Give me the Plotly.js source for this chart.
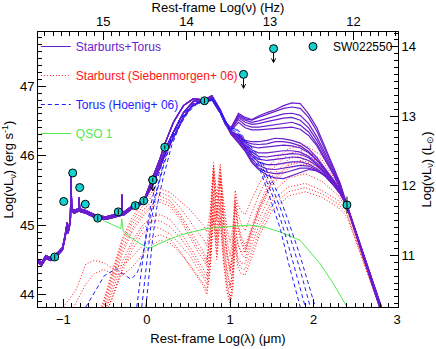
<!DOCTYPE html>
<html>
<head>
<meta charset="utf-8">
<script src="https://cdn.plot.ly/plotly-3.0.1.min.js"></script>
<style>html,body{margin:0;padding:0;background:#fff}#graph{width:436px;height:349px}</style>
</head>
<body>
<div id="graph"></div>
<script>
// Starburst+Torus model SEDs (purple): UV part, near-IR part, far-IR part
var uvX = [-1.31, -1.26, -1.21, -1.15, -1.07, -1.01, -0.98, -0.96, -0.955, -0.945, -0.93, -0.915, -0.909, -0.900, -0.87, -0.815, -0.81, -0.805, -0.79, -0.73, -0.61, -0.49, -0.37, -0.303, -0.297, -0.291, -0.28, -0.17, -0.05];
var uvY = [
  [44.49, 44.44, 44.54, 44.51, 44.58, 44.66, 44.83, 44.95, 45.02, 44.90, 44.97, 45.10, 45.73, 45.22, 45.19, 45.22, 45.38, 45.22, 45.21, 45.19, 45.12, 45.10, 45.14, 45.16, 45.42, 45.17, 45.16, 45.26, 45.33],
  [44.51, 44.46, 44.56, 44.53, 44.60, 44.68, 44.85, 44.97, 45.04, 44.92, 44.99, 45.12, 45.74, 45.24, 45.21, 45.24, 45.40, 45.24, 45.23, 45.21, 45.14, 45.12, 45.16, 45.18, 45.44, 45.19, 45.18, 45.28, 45.35],
  [44.47, 44.42, 44.52, 44.49, 44.56, 44.64, 44.81, 44.93, 45.00, 44.88, 44.95, 45.08, 45.72, 45.20, 45.17, 45.20, 45.36, 45.20, 45.19, 45.17, 45.10, 45.08, 45.12, 45.14, 45.40, 45.15, 45.14, 45.24, 45.31]
];
var nirX = [0.0, 0.08, 0.16, 0.22, 0.32, 0.44, 0.56, 0.69, 0.78, 0.88, 0.94];
var nirY = [
  [45.47, 45.70, 45.96, 46.18, 46.48, 46.72, 46.82, 46.80, 46.86, 46.66, 46.50],
  [45.44, 45.64, 45.88, 46.08, 46.34, 46.62, 46.78, 46.79, 46.83, 46.64, 46.48],
  [45.42, 45.60, 45.84, 46.02, 46.26, 46.55, 46.74, 46.78, 46.81, 46.62, 46.46]
];
var firX = [1.01, 1.1, 1.18, 1.26, 1.34, 1.44, 1.54, 1.64, 1.74, 1.84, 1.94, 2.04, 2.14, 2.24, 2.32, 2.4, 2.5, 2.6, 2.7, 2.8, 2.9];
var firY = [
  [46.40, 46.61, 46.55, 46.52, 46.57, 46.62, 46.66, 46.72, 46.76, 46.75, 46.60, 46.40, 46.12, 45.85, 45.60, 45.29, 44.93, 44.57, 44.21, 43.85, 43.49],
  [46.40, 46.59, 46.53, 46.51, 46.55, 46.59, 46.63, 46.68, 46.70, 46.68, 46.55, 46.35, 46.08, 45.82, 45.58, 45.28, 44.92, 44.56, 44.20, 43.84, 43.48],
  [46.39, 46.57, 46.51, 46.48, 46.50, 46.53, 46.57, 46.60, 46.61, 46.58, 46.46, 46.27, 46.03, 45.79, 45.56, 45.28, 44.92, 44.55, 44.19, 43.83, 43.47],
  [46.38, 46.55, 46.48, 46.45, 46.46, 46.49, 46.52, 46.54, 46.55, 46.51, 46.40, 46.22, 45.99, 45.76, 45.55, 45.28, 44.91, 44.55, 44.18, 43.82, 43.45],
  [46.37, 46.52, 46.44, 46.41, 46.41, 46.43, 46.45, 46.47, 46.48, 46.44, 46.34, 46.17, 45.96, 45.74, 45.53, 45.28, 44.91, 44.54, 44.17, 43.80, 43.43],
  [46.36, 46.48, 46.40, 46.37, 46.37, 46.38, 46.38, 46.40, 46.41, 46.38, 46.29, 46.14, 45.93, 45.72, 45.52, 45.27, 44.90, 44.53, 44.16, 43.79, 43.42],
  [46.35, 46.30, 46.22, 46.20, 46.20, 46.22, 46.25, 46.24, 46.22, 46.18, 46.10, 45.97, 45.81, 45.65, 45.50, 45.28, 44.93, 44.57, 44.22, 43.86, 43.50],
  [46.34, 46.29, 46.20, 46.17, 46.16, 46.17, 46.20, 46.20, 46.18, 46.14, 46.06, 45.94, 45.79, 45.64, 45.50, 45.28, 44.93, 44.58, 44.22, 43.87, 43.52],
  [46.34, 46.28, 46.18, 46.13, 46.11, 46.12, 46.14, 46.15, 46.14, 46.11, 46.04, 45.93, 45.78, 45.63, 45.49, 45.28, 44.93, 44.57, 44.22, 43.86, 43.51],
  [46.33, 46.26, 46.15, 46.08, 46.04, 46.04, 46.06, 46.07, 46.07, 46.05, 45.99, 45.89, 45.76, 45.62, 45.48, 45.28, 44.92, 44.57, 44.21, 43.86, 43.50],
  [46.33, 46.25, 46.14, 46.05, 45.99, 45.98, 46.00, 46.02, 46.03, 46.02, 45.97, 45.87, 45.75, 45.61, 45.48, 45.28, 44.92, 44.56, 44.21, 43.85, 43.49],
  [46.33, 46.24, 46.12, 46.02, 45.95, 45.93, 45.94, 45.96, 45.98, 45.97, 45.93, 45.85, 45.73, 45.60, 45.47, 45.28, 44.92, 44.56, 44.20, 43.84, 43.48],
  [46.32, 46.23, 46.11, 45.99, 45.91, 45.87, 45.87, 45.89, 45.91, 45.91, 45.88, 45.81, 45.71, 45.58, 45.46, 45.28, 44.91, 44.55, 44.18, 43.82, 43.45],
  [46.32, 46.21, 46.09, 45.95, 45.86, 45.81, 45.80, 45.82, 45.85, 45.86, 45.85, 45.79, 45.70, 45.57, 45.45, 45.27, 44.91, 44.54, 44.17, 43.80, 43.43],
  [46.31, 46.20, 46.08, 45.92, 45.82, 45.76, 45.74, 45.75, 45.79, 45.82, 45.82, 45.78, 45.71, 45.58, 45.45, 45.27, 44.90, 44.53, 44.16, 43.79, 43.42],
  [46.31, 46.18, 46.06, 45.90, 45.80, 45.72, 45.68, 45.67, 45.71, 45.76, 45.80, 45.78, 45.72, 45.58, 45.45, 45.27, 44.90, 44.53, 44.16, 43.78, 43.41]
];

// Starburst models (Siebenmorgen+ 06), red dotted
var sbX = [-1.0, -0.85, -0.73, -0.63, -0.52, -0.41, -0.29, -0.17, -0.05, 0.07, 0.16, 0.28, 0.40, 0.52, 0.62, 0.68, 0.72, 0.76, 0.80, 0.84, 0.88, 0.92, 0.96, 1.0, 1.03, 1.06, 1.09, 1.13, 1.18, 1.25, 1.35, 1.5, 1.7, 1.9, 2.1, 2.3, 2.4, 2.6, 2.8];
var sbY = [
  [42.60, 42.95, 43.25, 43.50, 43.82, 44.25, 44.73, 45.02, 45.21, 45.35, 45.42, 45.35, 45.16, 44.92, 44.72, 44.62, 44.50, 44.95, 45.80, 45.15, 45.75, 45.10, 44.65, 44.38, 44.65, 45.35, 45.05, 44.85, 44.70, 44.95, 45.30, 45.70, 45.95, 46.02, 45.88, 45.55, 45.28, 44.56, 43.84],
  [42.55, 42.90, 43.20, 43.45, 43.76, 44.18, 44.66, 44.96, 45.16, 45.30, 45.37, 45.31, 45.12, 44.87, 44.66, 44.56, 44.45, 44.90, 45.75, 45.10, 45.70, 45.05, 44.60, 44.34, 44.60, 45.30, 45.00, 44.80, 44.65, 44.90, 45.25, 45.64, 45.88, 45.95, 45.82, 45.52, 45.27, 44.56, 43.84],
  [42.45, 42.80, 43.10, 43.38, 43.70, 44.12, 44.60, 44.92, 45.12, 45.27, 45.33, 45.27, 45.08, 44.82, 44.60, 44.50, 44.40, 44.85, 45.70, 45.05, 45.65, 45.00, 44.55, 44.30, 44.55, 45.25, 44.95, 44.75, 44.60, 44.85, 45.20, 45.58, 45.82, 45.88, 45.76, 45.48, 45.25, 44.55, 43.83],
  [42.70, 43.05, 43.35, 43.62, 43.90, 44.35, 44.82, 45.12, 45.33, 45.48, 45.52, 45.47, 45.35, 45.22, 45.08, 45.00, 44.90, 45.20, 45.90, 45.40, 45.88, 45.35, 44.95, 44.75, 44.95, 45.50, 45.30, 45.20, 45.15, 45.35, 45.60, 45.90, 46.10, 46.15, 46.00, 45.62, 45.30, 44.58, 43.86],
  [42.65, 43.00, 43.30, 43.56, 43.86, 44.30, 44.78, 45.07, 45.27, 45.42, 45.47, 45.41, 45.25, 45.05, 44.88, 44.80, 44.70, 45.08, 45.85, 45.28, 45.82, 45.22, 44.80, 44.55, 44.80, 45.42, 45.18, 45.02, 44.92, 45.15, 45.45, 45.80, 46.03, 46.08, 45.94, 45.58, 45.29, 44.57, 43.85],
  [42.42, 42.78, 43.08, 43.36, 43.66, 44.05, 44.48, 44.78, 45.00, 45.12, 45.15, 45.08, 44.90, 44.68, 44.48, 44.38, 44.28, 44.68, 45.50, 44.88, 45.45, 44.80, 44.38, 44.12, 44.38, 45.05, 44.75, 44.60, 44.52, 44.78, 45.10, 45.46, 45.68, 45.74, 45.63, 45.42, 45.23, 44.52, 43.81],
  [42.30, 42.70, 43.00, 43.30, 43.60, 43.98, 44.40, 44.72, 44.95, 45.06, 45.06, 44.98, 44.82, 44.62, 44.42, 44.32, 44.22, 44.60, 45.40, 44.80, 45.35, 44.72, 44.32, 44.08, 44.35, 45.00, 44.72, 44.62, 44.62, 44.90, 45.25, 45.62, 45.86, 45.92, 45.80, 45.50, 45.26, 44.55, 43.83],
  [42.40, 42.80, 43.10, 43.40, 43.65, 43.95, 44.35, 44.65, 44.88, 44.98, 44.95, 44.87, 44.72, 44.55, 44.35, 44.25, 44.15, 44.50, 45.30, 44.70, 45.25, 44.60, 44.20, 43.95, 44.20, 44.85, 44.55, 44.45, 44.45, 44.70, 45.00, 45.35, 45.55, 45.60, 45.50, 45.35, 45.20, 44.50, 43.80],
  [43.82, 44.06, 44.44, 44.49, 44.46, 44.38, 44.42, 44.55, 44.70, 44.82, 44.86, 44.80, 44.62, 44.40, 44.22, 44.12, 44.00, 44.35, 45.10, 44.50, 45.05, 44.45, 44.05, 43.85, 44.05, 44.70, 44.40, 44.30, 44.28, 44.50, 44.85, 45.20, 45.42, 45.48, 45.40, 45.25, 45.12, 44.45, 43.78],
  [43.50, 43.88, 44.15, 44.30, 44.36, 44.30, 44.28, 44.40, 44.58, 44.72, 44.78, 44.74, 44.60, 44.42, 44.25, 44.16, 44.06, 44.40, 45.18, 44.58, 45.12, 44.52, 44.12, 43.90, 44.12, 44.78, 44.48, 44.38, 44.36, 44.60, 44.92, 45.28, 45.48, 45.54, 45.45, 45.30, 45.16, 44.48, 43.79]
];

// Torus models (Hoenig+ 06), blue dashed
var torusX = [
  [-0.73, -0.61, -0.51, -0.37, -0.29, -0.19, -0.12, -0.08, -0.04, 0.0, 0.05, 0.1, 0.2, 0.3, 0.4, 0.5, 0.6, 0.7, 0.8, 0.88, 0.94, 1.0, 1.05, 1.1, 1.2, 1.36, 1.5, 1.6, 1.7, 1.84],
  [-0.12, -0.08, -0.04, 0.0, 0.05, 0.1, 0.2, 0.3, 0.4, 0.5, 0.6, 0.7, 0.8, 0.88, 0.94, 1.0, 1.05, 1.1, 1.2, 1.36, 1.5, 1.6, 1.7, 1.84, 1.9],
  [-0.06, -0.02, 0.02, 0.06, 0.1, 0.2, 0.3, 0.4, 0.5, 0.6, 0.7, 0.8, 0.88, 0.94, 1.0, 1.05, 1.1, 1.2, 1.36, 1.5, 1.6, 1.7, 1.84, 1.96],
  [-0.01, 0.03, 0.07, 0.12, 0.2, 0.3, 0.4, 0.5, 0.6, 0.7, 0.8, 0.88, 0.94, 1.0, 1.05, 1.1, 1.2, 1.36, 1.5, 1.6, 1.7, 1.84, 2.02]
];
var torusY = [
  [43.82, 44.06, 44.27, 44.37, 44.30, 44.22, 44.30, 44.42, 44.62, 44.88, 45.18, 45.42, 45.88, 46.25, 46.52, 46.68, 46.76, 46.78, 46.80, 46.62, 46.48, 46.35, 46.36, 46.28, 46.08, 45.79, 45.31, 44.95, 44.45, 43.82],
  [43.82, 44.20, 44.60, 44.95, 45.30, 45.55, 45.95, 46.28, 46.52, 46.68, 46.76, 46.79, 46.82, 46.64, 46.50, 46.37, 46.39, 46.32, 46.14, 45.85, 45.45, 45.10, 44.70, 44.08, 43.82],
  [43.82, 44.25, 44.70, 45.10, 45.38, 45.85, 46.22, 46.48, 46.66, 46.75, 46.78, 46.81, 46.63, 46.49, 46.37, 46.40, 46.34, 46.17, 45.90, 45.55, 45.25, 44.90, 44.35, 43.82],
  [43.82, 44.30, 44.80, 45.25, 45.70, 46.15, 46.44, 46.63, 46.74, 46.77, 46.80, 46.62, 46.48, 46.36, 46.40, 46.36, 46.20, 45.95, 45.65, 45.38, 45.05, 44.55, 43.82]
];

// QSO 1 template, green
var qsoX = [-0.53, -0.43, -0.35, -0.31, -0.30, -0.29, -0.28, -0.17, 0.02, 0.24, 0.44, 0.72, 1.0, 1.24, 1.44, 1.60, 1.84, 2.08, 2.24, 2.40];
var qsoY = [45.07, 45.02, 44.98, 44.95, 45.09, 44.95, 44.90, 44.80, 44.66, 44.78, 44.87, 44.95, 44.98, 45.00, 44.96, 44.90, 44.78, 44.44, 44.15, 43.82];

// SW022550 photometry
var obsX = [-1.104, -0.996, -0.888, -0.804, -0.737, -0.588, -0.341, -0.137, -0.036, 0.072, 0.216, 0.692, 2.40];
var obsY = [44.54, 45.34, 45.75, 45.54, 45.30, 45.10, 45.19, 45.28, 45.35, 45.65, 46.12, 46.79, 45.29];
var obsErr = [0.04, 0, 0, 0, 0, 0.04, 0.04, 0.04, 0.04, 0.03, 0.03, 0.04, 0.12];
// upper limits
var limX = [0.072, 1.16, 1.52];
var limY = [45.65, 47.17, 47.54];
var limLen = [0.16, 0.2, 0.2];

var PURPLE = 'rgb(105,30,205)';
var RED = 'rgb(255,20,20)';
var BLUE = 'rgb(30,30,255)';
var GREEN = 'rgb(80,235,80)';
var CYAN = 'rgb(20,210,210)';
var LSUN = 33.565;

var traces = [];

sbY.forEach(function(y, i) {
  traces.push({
    x: sbX, y: y, type: 'scatter', mode: 'lines',
    line: {color: RED, width: 1, dash: '1px,2px'},
    name: '<span style="color:' + RED + '">Starburst (Siebenmorgen+ 06)</span>',
    legendgroup: 'sb', showlegend: i === 0, legendrank: 2, hoverinfo: 'skip'
  });
});

traces.push({
  x: qsoX, y: qsoY, type: 'scatter', mode: 'lines',
  line: {color: GREEN, width: 1},
  name: '<span style="color:' + GREEN + '">QSO 1</span>',
  legendrank: 4, hoverinfo: 'skip'
});

var sedX = uvX.concat(nirX, firX);
firY.forEach(function(fy, i) {
  traces.push({
    x: sedX, y: uvY[i % 3].concat(nirY[(i + 1) % 3], fy),
    type: 'scatter', mode: 'lines',
    line: {color: PURPLE, width: 1.2},
    name: '<span style="color:' + PURPLE + '">Starburts+Torus</span>',
    legendgroup: 'sum', showlegend: i === 0, legendrank: 1, hoverinfo: 'skip'
  });
});

torusY.forEach(function(y, i) {
  traces.push({
    x: torusX[i], y: y, type: 'scatter', mode: 'lines',
    line: {color: BLUE, width: 1, dash: '4px,3px'},
    name: '<span style="color:' + BLUE + '">Torus (Hoenig+ 06)</span>',
    legendgroup: 'torus', showlegend: i === 0, legendrank: 3, hoverinfo: 'skip'
  });
});

// upper-limit arrows: shaft and open head below each limit point
var ax = [], ay = [];
limX.forEach(function(x, i) {
  var tip = limY[i] - limLen[i];
  ax.push(x, x, null, x - 0.025, x, x + 0.025, null);
  ay.push(limY[i] - 0.06, tip, null, tip + 0.06, tip, tip + 0.06, null);
});
traces.push({x: ax, y: ay, type: 'scatter', mode: 'lines', line: {color: 'black', width: 1}, showlegend: false, hoverinfo: 'skip'});

// observed points
traces.push({
  x: obsX.concat(limX), y: obsY.concat(limY), type: 'scatter', mode: 'markers',
  marker: {color: CYAN, size: 8, line: {color: 'black', width: 1}},
  name: 'SW022550', legend: 'legend2'
});

// error bars drawn above the markers
var ex = [], ey = [];
obsX.forEach(function(x, i) {
  if (obsErr[i] > 0) {
    ex.push(x, x, null);
    ey.push(obsY[i] - obsErr[i], obsY[i] + obsErr[i], null);
  }
});
traces.push({x: ex, y: ey, type: 'scatter', mode: 'lines', line: {color: 'black', width: 1}, showlegend: false, hoverinfo: 'skip'});

// empty trace to carry the top and right axes
traces.push({x: [], y: [], xaxis: 'x2', yaxis: 'y2', type: 'scatter', showlegend: false});

var xr = [-1.304, 3.012];
var yr = [43.82, 47.78];

function axisBase() {
  return {
    ticks: 'inside', ticklen: 8, tickwidth: 1, tickcolor: 'black',
    showline: true, linecolor: 'black', linewidth: 1,
    showgrid: false, zeroline: false, dtick: 1,
    minor: {dtick: 0.1, ticks: 'inside', ticklen: 4, tickcolor: 'black', showgrid: false},
    tickfont: {size: 13}, title: {font: {size: 13}}, fixedrange: true
  };
}

var xaxis = axisBase();
xaxis.range = xr; xaxis.tick0 = 0;
xaxis.title.text = 'Rest-frame Log(λ) (μm)';
xaxis.title.standoff = 8;

var xaxis2 = axisBase();
xaxis2.range = [14.477 - xr[0], 14.477 - xr[1]]; xaxis2.tick0 = 0;
xaxis2.overlaying = 'x'; xaxis2.side = 'top'; xaxis2.anchor = 'y';
xaxis2.title.text = 'Rest-frame Log(ν) (Hz)';
xaxis2.title.standoff = 4;

var yaxis = axisBase();
yaxis.range = yr; yaxis.tick0 = 0;
yaxis.title.text = 'Log(νL<sub>ν</sub>) (erg s<sup>-1</sup>)';
yaxis.title.standoff = 6;

var yaxis2 = axisBase();
yaxis2.range = [yr[0] - LSUN, yr[1] - LSUN]; yaxis2.tick0 = 0;
yaxis2.overlaying = 'y'; yaxis2.side = 'right'; yaxis2.anchor = 'x2';
yaxis2.title.text = 'Log(νL<sub>ν</sub>) (L<sub>⊙</sub>)';
yaxis2.title.standoff = 6;

var layout = {
  width: 436, height: 349,
  margin: {l: 38, r: 38, t: 32, b: 42, pad: 0},
  paper_bgcolor: 'white', plot_bgcolor: 'white',
  font: {family: 'Liberation Sans, Arial, sans-serif', size: 12, color: 'black'},
  showlegend: true,
  legend: {x: -0.006, xanchor: 'left', y: 1, yanchor: 'top', bgcolor: 'rgba(0,0,0,0)', borderwidth: 0, font: {size: 12}},
  legend2: {x: 1.0, xanchor: 'right', y: 1, yanchor: 'top', bgcolor: 'rgba(0,0,0,0)', borderwidth: 0, font: {size: 12}},
  xaxis: xaxis, xaxis2: xaxis2, yaxis: yaxis, yaxis2: yaxis2
};

Plotly.newPlot('graph', traces, layout, {displayModeBar: false, staticPlot: true});
</script>
</body>
</html>
